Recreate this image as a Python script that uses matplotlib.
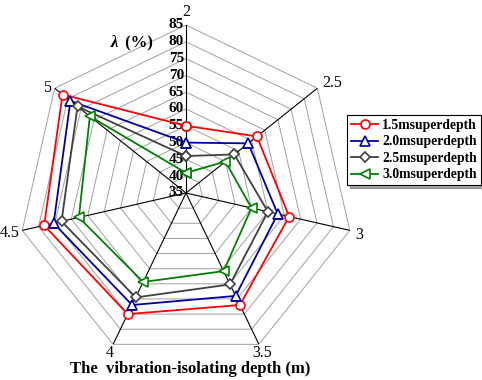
import numpy as np
import matplotlib
matplotlib.use("Agg")
import matplotlib.pyplot as plt

# %% Data

depths = ["2", "2.5", "3", "3.5", "4", "4.5", "5"]
r_ticks = [35, 40, 45, 50, 55, 60, 65, 70, 75, 80, 85]

lam_15 = [55, 62, 66.5, 72, 75, 78.3, 82]
lam_20 = [50, 58.7, 63, 69, 72, 75.4, 79]
lam_25 = [46, 53.4, 60, 65.2, 69.5, 73, 76.3]
lam_30 = [41, 50, 55, 60.8, 64.4, 67.7, 71.6]

series = [
    ("1.5msuperdepth", lam_15, "#ff0000", "o"),
    ("2.0msuperdepth", lam_20, "#0000a0", "^"),
    ("2.5msuperdepth", lam_25, "#404040", "D"),
    ("3.0msuperdepth", lam_30, "#008000", "<"),
]

# label placement next to the outer vertices: (dx, dy, ha, va) in pixels
label_pos = [
    (0, 13, "center", "center"),
    (5, 5, "left", "center"),
    (5, -5, "left", "center"),
    (3, -9, "center", "center"),
    (-3, -9, "center", "center"),
    (-3, -3, "right", "center"),
    (-4, 0, "right", "center"),
]

# %% Plot

plt.rcParams["font.family"] = ["Liberation Serif", "DejaVu Serif"]

fig = plt.figure(figsize=(4.82, 3.80), dpi=100)
ax = fig.add_axes([18 / 482, 19 / 380, 336 / 482, 336 / 380], projection="polar")
ax.set_theta_offset(np.pi / 2)
ax.set_theta_direction(-1)
ax.set_ylim(35, 85)

theta = np.linspace(0, 2 * np.pi, len(depths), endpoint=False)
theta_c = np.append(theta, theta[0])

ax.grid(False)
ax.spines["polar"].set_visible(False)
ax.set_yticks([])
ax.set_xticks([])

for r in r_ticks[1:]:
    ax.plot(theta_c, [r] * len(theta_c), color="#a0a0a0", lw=0.7, zorder=1)
for t in theta:
    ax.plot([t, t], [35, 85], color="black", lw=0.8, zorder=2)

for t, lab, (dx, dy, ha, va) in zip(theta, depths, label_pos):
    ax.annotate(lab, xy=(t, 85), xytext=(dx, dy), textcoords="offset pixels",
                ha=ha, va=va, fontsize=11.5, annotation_clip=False)

for r in r_ticks:
    ax.annotate(str(r), xy=(0, r), xytext=(-2, 0), textcoords="offset pixels",
                ha="right", va="center", fontsize=11, fontweight="bold")

for name, vals, color, marker in series:
    ax.plot(theta_c, vals + vals[:1], color=color, lw=1.3, marker=marker,
            markersize=6.5 if marker != "D" else 5.5, markerfacecolor="white",
            markeredgecolor=color, markeredgewidth=1.2, label=name, zorder=3)

leg = fig.legend(loc="upper left", bbox_to_anchor=(347 / 482, 1 - 115 / 380),
                 prop={"weight": "bold", "size": 9.8}, frameon=True, fancybox=False,
                 shadow=True, handlelength=2.0, borderpad=0.3, labelspacing=0.25,
                 handletextpad=0.3, borderaxespad=0)
leg.get_frame().set_edgecolor("black")
leg.get_frame().set_linewidth(0.8)

fig.text(111 / 482, 1 - 43 / 380, "λ", fontsize=12, fontweight="bold",
         fontstyle="italic", ha="left", va="center")
fig.text(121 / 482, 1 - 43 / 380, " (%)", fontsize=12, fontweight="bold",
         ha="left", va="center")
fig.text(190 / 482, 1 - 369 / 380, "The  vibration-isolating depth (m)",
         fontsize=12, fontweight="bold", ha="center", va="center")

fig.savefig("out.png", dpi=100)
